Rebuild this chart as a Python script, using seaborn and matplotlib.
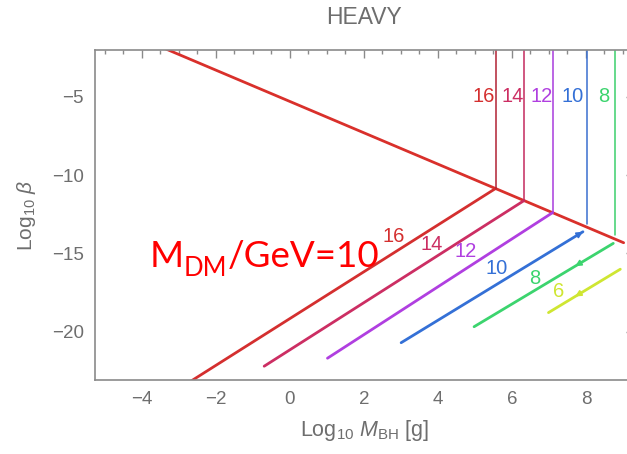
import numpy as np
import pandas as pd
import matplotlib
matplotlib.use("Agg")
import matplotlib.pyplot as plt
import seaborn as sns

# ---------------- data ----------------
mass_exp = [16, 14, 12, 10, 8, 6]
line_colors = ["#d42f2f", "#cc2e63", "#b03fe0", "#3470d6", "#3cd46e", "#cfe632"]
vert_colors = ["#b22234", "#c42a5e", "#a83cdc", "#3a6fd0", "#3ccf6c"]

# boundary (main red) line
main_x = [-3.4, 9.02]
main_y = [-1.9, -14.32]

# diagonal lines (start -> end)
diag_x0 = [-2.70, -0.69, 1.02, 3.01, 4.98, 6.99]
diag_y0 = [-23.20, -22.20, -21.69, -20.70, -19.68, -18.78]
diag_x1 = [5.56, 6.33, 7.10, 7.92, 8.74, 8.93]
diag_y1 = [-10.86, -11.63, -12.40, -13.62, -14.36, -16.01]

# vertical lines (for 16, 14, 12, 10, 8)
vert_x = [5.56, 6.33, 7.10, 8.03, 8.79]
vert_ybot = [-10.86, -11.63, -12.40, -13.15, -13.85]
vert_ytop = -1.0

# contour labels
diag_lab_x = [2.82, 3.84, 4.74, 5.59, 6.61, 7.26]
diag_lab_y = [-13.93, -14.46, -14.89, -15.95, -16.59, -17.44]
top_lab_x = [5.23, 6.03, 6.81, 7.64, 8.49]
top_lab_y = -5.0

# arrow marks: (series index, x position, direction +1 forward / -1 backward)
arrow_series = [3, 4, 5]
arrow_xpos = [7.92, 7.71, 7.71]
arrow_dir = [1, -1, -1]

xlim = (-5.26, 9.30)
ylim = (-23.08, -2.02)
x_major = [-4, -2, 0, 2, 4, 6, 8]
y_major = [-5, -10, -15, -20]

# ---------------- style ----------------
sns.set_theme(style="white")
plt.rcParams["font.family"] = ["Liberation Sans", "DejaVu Sans"]
plt.rcParams["mathtext.fontset"] = "custom"
plt.rcParams["mathtext.rm"] = "Liberation Sans"
plt.rcParams["mathtext.it"] = "Liberation Sans:italic"
plt.rcParams["mathtext.bf"] = "Liberation Sans:bold"

GRAY = "#6e6e6e"
FRAME = "#8a8a8a"

fig = plt.figure(figsize=(6.27, 4.54), dpi=100)
ax = fig.add_axes([95 / 627, 1 - 380 / 454, (634 - 95) / 627, (380 - 50) / 454])


def seg(xs, ys, color, lw):
    df = pd.DataFrame({"x": xs, "y": ys})
    sns.lineplot(data=df, x="x", y="y", color=color, lw=lw, ax=ax, sort=False,
                 estimator=None, errorbar=None)


# main boundary line
seg(main_x, main_y, "#d9302b", 2.0)

# diagonal lines
for i, m in enumerate(mass_exp):
    seg([diag_x0[i], diag_x1[i]], [diag_y0[i], diag_y1[i]], line_colors[i], 2.0)

# vertical lines
for i in range(len(vert_x)):
    seg([vert_x[i], vert_x[i]], [vert_ybot[i], vert_ytop], vert_colors[i], 1.1)

# arrow heads along some lines
for s, xp, d in zip(arrow_series, arrow_xpos, arrow_dir):
    x0, y0, x1, y1 = diag_x0[s], diag_y0[s], diag_x1[s], diag_y1[s]
    slope = (y1 - y0) / (x1 - x0)
    yp = y0 + slope * (xp - x0)
    dx = 0.15 * d
    ax.annotate("", xy=(xp, yp), xytext=(xp - dx, yp - slope * dx),
                arrowprops=dict(arrowstyle="-|>", color=line_colors[s], lw=1.2,
                                mutation_scale=9, shrinkA=0, shrinkB=0))

# labels
for i, m in enumerate(mass_exp):
    ax.text(diag_lab_x[i], diag_lab_y[i], str(m), color=line_colors[i], fontsize=14.5,
            ha="center", va="center")
for i in range(len(top_lab_x)):
    ax.text(top_lab_x[i], top_lab_y, str(mass_exp[i]), color=line_colors[i], fontsize=14.5,
            ha="center", va="center")

# big red annotation
t1 = ax.text(-3.78, -15.85, "M", color="red", fontsize=26.5, family="Lato", va="baseline")
t2 = ax.annotate("DM", xy=(1, 0), xycoords=t1, xytext=(0, -6), textcoords="offset points",
                 color="red", fontsize=18.5, family="Lato", va="bottom")
t3 = ax.annotate("/GeV=10", xy=(1, 0), xycoords=(t2, t1), color="red", fontsize=26.5,
                 family="Lato", va="bottom")

ax.set_xlim(*xlim)
ax.set_ylim(*ylim)
ax.set_xticks(x_major)
ax.set_xticklabels(["\u2212" + str(-v) if v < 0 else str(v) for v in x_major])
ax.set_yticks(y_major)
ax.set_yticklabels(["\u2212" + str(-v) for v in y_major])
ax.set_xticks(np.arange(-5.0, 9.5, 0.5), minor=True)
ax.set_yticks(np.arange(-23, -2, 1.0), minor=True)
ax.tick_params(which="both", direction="in", top=True, right=True, color=FRAME,
               width=1.0, labelsize=13.5, labelcolor=GRAY)
ax.tick_params(which="major", length=6, pad=8)
ax.tick_params(which="minor", length=3)
for sp in ax.spines.values():
    sp.set_color(FRAME)
    sp.set_linewidth(1.2)

ax.set_xlabel(r"Log$_{10}$ $M_{\mathrm{BH}}$ [g]", fontsize=15.5, color=GRAY, labelpad=7)
ax.set_ylabel(r"Log$_{10}$ $\beta$", fontsize=15, color=GRAY, labelpad=10)
fig.text(364.5 / 627, 1 - 18 / 454, "HEAVY", fontsize=16.5, color=GRAY, ha="center", va="center")

fig.savefig("out.png", dpi=100)
